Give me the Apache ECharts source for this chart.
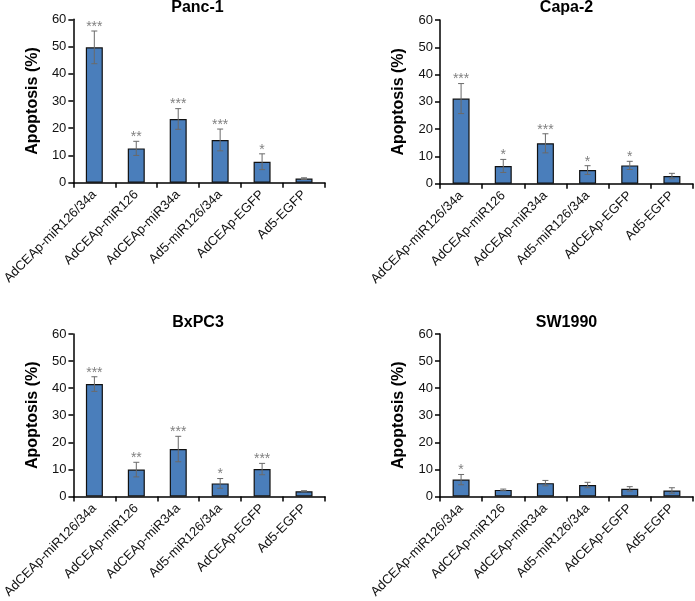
<!DOCTYPE html>
<html>
<head>
<meta charset="utf-8">
<script src="https://cdn.jsdelivr.net/npm/echarts@6/dist/echarts.min.js"></script>
<style>
html,body{margin:0;padding:0;background:#fff;}
#chart{width:695px;height:601px;}
</style>
</head>
<body>
<div id="chart"></div>
<script>
var categories = ['AdCEAp-miR126/34a','AdCEAp-miR126','AdCEAp-miR34a','Ad5-miR126/34a','AdCEAp-EGFP','Ad5-EGFP'];
var yTicks = [0, 10, 20, 30, 40, 50, 60];
var panelTitles = ['Panc-1', 'Capa-2', 'BxPC3', 'SW1990'];

var panc1Values = [49.7, 12.6, 23.4, 15.7, 7.7, 1.5];
var panc1Errors = [6.0, 2.6, 3.8, 4.0, 2.9, 0.3];
var panc1Stars  = ['***','**','***','***','*',''];

var capa2Values = [31.2, 6.5, 14.8, 5.0, 6.7, 2.8];
var capa2Errors = [5.5, 2.4, 3.5, 1.6, 1.5, 1.0];
var capa2Stars  = ['***','*','***','*','*',''];

var bxpc3Values = [41.5, 9.9, 17.5, 4.8, 10.1, 1.9];
var bxpc3Errors = [2.7, 2.7, 4.7, 1.8, 2.1, 0.2];
var bxpc3Stars  = ['***','**','***','*','***',''];

var sw1990Values = [6.2, 2.4, 4.9, 4.2, 2.8, 2.2];
var sw1990Errors = [1.9, 0.3, 1.0, 1.0, 0.8, 1.0];
var sw1990Stars  = ['*','','','','',''];

var panels = [
  {title: panelTitles[0], values: panc1Values, errors: panc1Errors, stars: panc1Stars},
  {title: panelTitles[1], values: capa2Values, errors: capa2Errors, stars: capa2Stars},
  {title: panelTitles[2], values: bxpc3Values, errors: bxpc3Errors, stars: bxpc3Stars},
  {title: panelTitles[3], values: sw1990Values, errors: sw1990Errors, stars: sw1990Stars}
];

var gridBoxes = [
  {left: 70, top: 19.3, width: 255, height: 163.4},
  {left: 440, top: 20, width: 253, height: 163.7},
  {left: 71, top: 334, width: 254, height: 164.3},
  {left: 440, top: 334, width: 253, height: 164}
];
var titleY = [8, 8, 322.5, 322.5];

var FONT = 'Liberation Sans, Arial, sans-serif';
var chart = echarts.init(document.getElementById('chart'), null, {renderer: 'canvas'});

var grids = [], xAxes = [], yAxes = [], series = [], graphics = [];

panels.forEach(function (p, i) {
  var g = gridBoxes[i];
  grids.push({left: g.left, top: g.top, width: g.width, height: g.height, containLabel: false});
  graphics.push({
    type: 'text',
    x: g.left + g.width / 2,
    y: titleY[i],
    style: {text: p.title, font: 'bold 16px ' + FONT, fill: '#000', align: 'center', verticalAlign: 'middle'}
  });
  xAxes.push({
    type: 'category', gridIndex: i, data: categories,
    axisLine: {show: true, lineStyle: {color: '#000', width: 1.5}},
    axisTick: {show: true, length: 5, interval: 0, lineStyle: {color: '#000', width: 1.5}},
    axisLabel: {interval: 0, rotate: 45, fontSize: 13, fontFamily: FONT, color: '#111', margin: 10},
    splitLine: {show: false}
  });
  yAxes.push({
    type: 'value', gridIndex: i, min: yTicks[0], max: yTicks[yTicks.length - 1], interval: 10,
    name: 'Apoptosis (%)', nameLocation: 'middle', nameGap: 33, nameRotate: 90,
    nameTextStyle: {fontSize: 16, fontWeight: 'bold', fontFamily: FONT, color: '#000'},
    axisLine: {show: true, lineStyle: {color: '#000', width: 1.5}},
    axisTick: {show: true, length: 5, lineStyle: {color: '#000', width: 1.5}},
    axisLabel: {fontSize: 13, fontFamily: FONT, color: '#111', margin: 7},
    splitLine: {show: false}
  });
  series.push({
    type: 'bar', xAxisIndex: i, yAxisIndex: i, data: p.values, barWidth: 17,
    itemStyle: {color: '#4a7ebb', borderColor: '#111', borderWidth: 1.2},
    z: 2
  });
  var errData = p.values.map(function (v, k) { return [k, v, p.errors[k]]; });
  series.push({
    type: 'custom', xAxisIndex: i, yAxisIndex: i, data: errData, z: 5,
    renderItem: (function (stars) {
      return function (params, api) {
        var k = api.value(0), v = api.value(1), e = api.value(2);
        var top = api.coord([k, v + e]);
        var bot = api.coord([k, v - e]);
        var cap = 3;
        var children = [
          {type: 'line', shape: {x1: top[0], y1: top[1], x2: bot[0], y2: bot[1]}, style: {stroke: '#6a6a6a', lineWidth: 1}},
          {type: 'line', shape: {x1: top[0] - cap, y1: top[1], x2: top[0] + cap, y2: top[1]}, style: {stroke: '#6a6a6a', lineWidth: 1}},
          {type: 'line', shape: {x1: bot[0] - cap, y1: bot[1], x2: bot[0] + cap, y2: bot[1]}, style: {stroke: '#6a6a6a', lineWidth: 1}}
        ];
        if (stars[k]) {
          children.push({type: 'text', x: top[0], y: top[1] + 3,
            style: {text: stars[k], font: '14px ' + FONT, fill: '#808080', align: 'center', verticalAlign: 'bottom'}});
        }
        return {type: 'group', children: children};
      };
    })(p.stars)
  });
});

chart.setOption({
  animation: false,
  backgroundColor: '#fff',
  grid: grids,
  xAxis: xAxes,
  yAxis: yAxes,
  series: series,
  graphic: graphics
});
</script>
</body>
</html>
